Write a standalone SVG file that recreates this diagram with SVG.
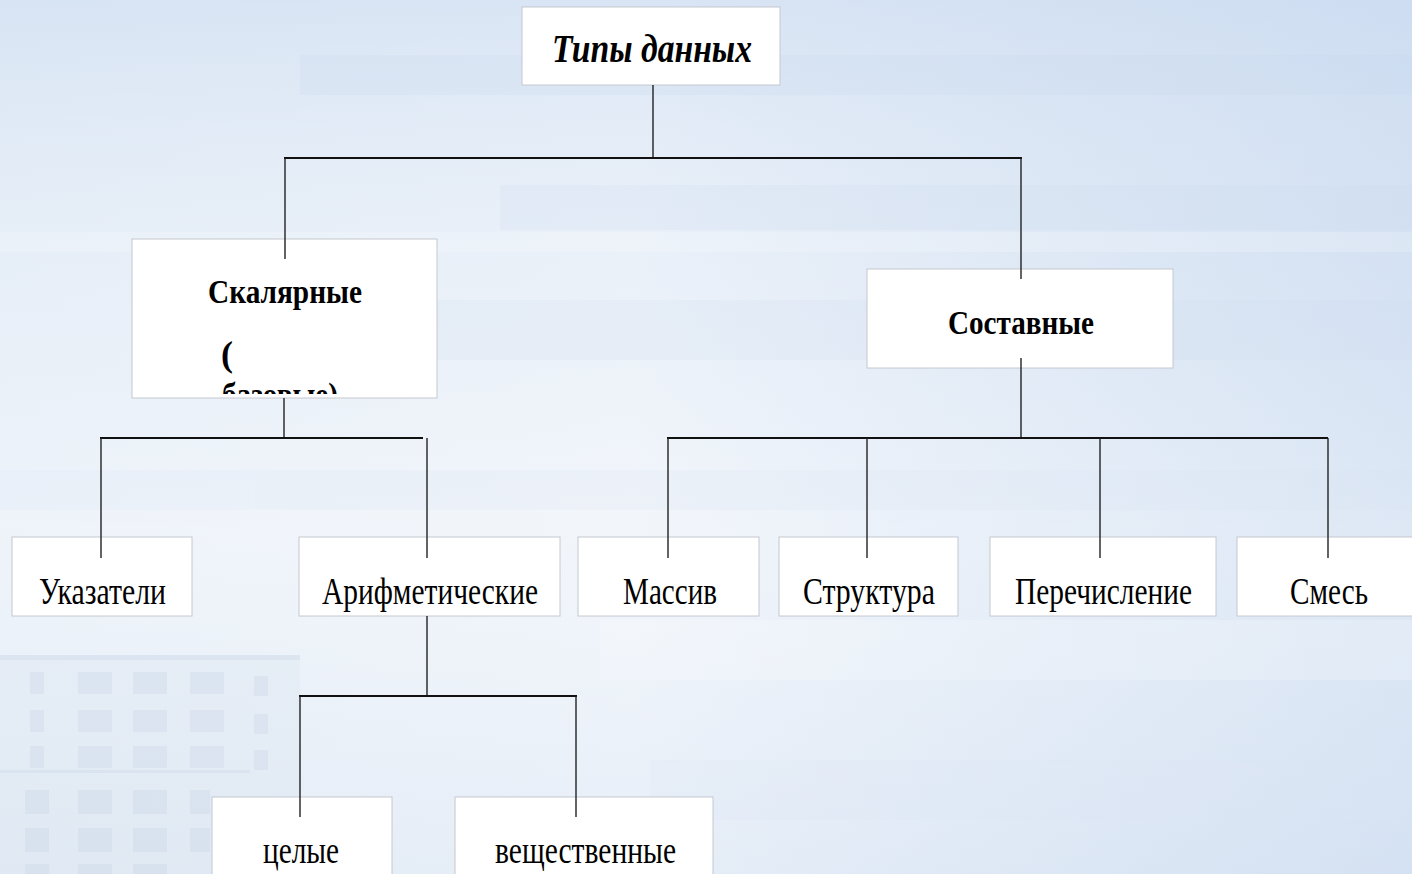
<svg xmlns="http://www.w3.org/2000/svg" width="1412" height="874" viewBox="0 0 1412 874">
  <defs>
    <linearGradient id="bgH" x1="0" y1="0" x2="1" y2="0">
      <stop offset="0" stop-color="#e9f0f8"/>
      <stop offset="0.45" stop-color="#eef3fa"/>
      <stop offset="1" stop-color="#d2e0f2"/>
    </linearGradient>
    <linearGradient id="bgV" x1="0" y1="0" x2="0" y2="1">
      <stop offset="0" stop-color="#c9daf0" stop-opacity="0.55"/>
      <stop offset="0.3" stop-color="#dde8f5" stop-opacity="0.2"/>
      <stop offset="0.6" stop-color="#ffffff" stop-opacity="0.25"/>
      <stop offset="1" stop-color="#d8e4f3" stop-opacity="0.35"/>
    </linearGradient>
    <clipPath id="clipSc">
      <rect x="132" y="239" width="305" height="155"/>
    </clipPath>
    <style>
      .box { fill: #ffffff; stroke: #c4c8cf; stroke-width: 1; }
      .lbl { font-family: "Liberation Serif", "Times New Roman", serif; font-size: 38px; fill: #000; text-anchor: middle; }
      .bold { font-weight: bold; font-size: 34px; }
      .title { font-weight: bold; font-style: italic; font-size: 40px; }
      .h { stroke: #111; stroke-width: 2.2; fill: none; }
      .v { stroke: #222; stroke-width: 1.4; fill: none; }
      .bldg { fill: #b9c9de; opacity: 0.22; }
    </style>
  </defs>

  <!-- background -->
  <rect x="0" y="0" width="1412" height="874" fill="url(#bgH)"/>
  <rect x="0" y="0" width="1412" height="874" fill="url(#bgV)"/>
  <g opacity="0.2">
    <rect x="300" y="55" width="1112" height="40" fill="#c6d8ee"/>
    <rect x="500" y="185" width="912" height="45" fill="#cadbef"/>
    <rect x="0" y="232" width="1412" height="20" fill="#ffffff"/>
    <rect x="430" y="300" width="982" height="60" fill="#d0def0"/>
    <rect x="0" y="470" width="1412" height="40" fill="#dae5f3"/>
    <rect x="600" y="620" width="812" height="60" fill="#ffffff"/>
    <rect x="650" y="760" width="762" height="60" fill="#dbe6f3"/>
  </g>
  <!-- faint building, bottom left -->
  <g>
    <rect x="0" y="655" width="300" height="219" fill="#dbe5f1" opacity="0.4"/>
    <rect x="0" y="655" width="300" height="5" class="bldg"/>
    <rect x="0" y="770" width="250" height="3" class="bldg"/>
    <rect x="30" y="672" width="14" height="22" class="bldg"/>
    <rect x="78" y="672" width="34" height="22" class="bldg"/>
    <rect x="133" y="672" width="34" height="22" class="bldg"/>
    <rect x="190" y="672" width="34" height="22" class="bldg"/>
    <rect x="254" y="676" width="14" height="20" class="bldg"/>
    <rect x="30" y="710" width="14" height="22" class="bldg"/>
    <rect x="78" y="710" width="34" height="22" class="bldg"/>
    <rect x="133" y="710" width="34" height="22" class="bldg"/>
    <rect x="190" y="710" width="34" height="22" class="bldg"/>
    <rect x="254" y="714" width="14" height="20" class="bldg"/>
    <rect x="30" y="746" width="14" height="22" class="bldg"/>
    <rect x="78" y="746" width="34" height="22" class="bldg"/>
    <rect x="133" y="746" width="34" height="22" class="bldg"/>
    <rect x="190" y="746" width="34" height="22" class="bldg"/>
    <rect x="254" y="750" width="14" height="20" class="bldg"/>
    <rect x="25" y="790" width="24" height="24" class="bldg"/>
    <rect x="78" y="790" width="34" height="24" class="bldg"/>
    <rect x="133" y="790" width="34" height="24" class="bldg"/>
    <rect x="190" y="790" width="20" height="24" class="bldg"/>
    <rect x="25" y="828" width="24" height="24" class="bldg"/>
    <rect x="78" y="828" width="34" height="24" class="bldg"/>
    <rect x="133" y="828" width="34" height="24" class="bldg"/>
    <rect x="190" y="828" width="20" height="24" class="bldg"/>
    <rect x="25" y="864" width="24" height="10" class="bldg"/>
    <rect x="78" y="864" width="34" height="10" class="bldg"/>
    <rect x="133" y="864" width="34" height="10" class="bldg"/>
  </g>

  <!-- nodes -->
  <g id="n-root">
    <rect class="box" x="522" y="7" width="258" height="78"/>
    <text class="lbl title" x="652" y="62" textLength="200" lengthAdjust="spacingAndGlyphs">Типы данных</text>
  </g>
  <g id="n-scalar">
    <rect class="box" x="132" y="239" width="305" height="159"/>
    <text class="lbl bold" x="285" y="303" textLength="154" lengthAdjust="spacingAndGlyphs">Скалярные</text>
    <text class="lbl bold" x="221" y="366" style="text-anchor:start;font-size:36px">(</text>
    <text class="lbl bold" x="222" y="406" style="text-anchor:start" textLength="116" lengthAdjust="spacingAndGlyphs" clip-path="url(#clipSc)">базовые)</text>
  </g>
  <g id="n-compound">
    <rect class="box" x="867" y="269" width="306" height="99"/>
    <text class="lbl bold" x="1021" y="334" textLength="146" lengthAdjust="spacingAndGlyphs">Составные</text>
  </g>
  <g id="n-pointers">
    <rect class="box" x="12" y="537" width="180" height="79"/>
    <text class="lbl" x="102.5" y="604" textLength="127" lengthAdjust="spacingAndGlyphs">Указатели</text>
  </g>
  <g id="n-arith">
    <rect class="box" x="299" y="537" width="261" height="79"/>
    <text class="lbl" x="430" y="604" textLength="216" lengthAdjust="spacingAndGlyphs">Арифметические</text>
  </g>
  <g id="n-array">
    <rect class="box" x="578" y="537" width="181" height="79"/>
    <text class="lbl" x="670" y="604" textLength="94" lengthAdjust="spacingAndGlyphs">Массив</text>
  </g>
  <g id="n-struct">
    <rect class="box" x="779" y="537" width="179" height="79"/>
    <text class="lbl" x="869" y="604" textLength="132" lengthAdjust="spacingAndGlyphs">Структура</text>
  </g>
  <g id="n-enum">
    <rect class="box" x="990" y="537" width="226" height="79"/>
    <text class="lbl" x="1103.5" y="604" textLength="177" lengthAdjust="spacingAndGlyphs">Перечисление</text>
  </g>
  <g id="n-union">
    <rect class="box" x="1237" y="537" width="190" height="79"/>
    <text class="lbl" x="1329" y="604" textLength="78" lengthAdjust="spacingAndGlyphs">Смесь</text>
  </g>
  <g id="n-int">
    <rect class="box" x="212" y="797" width="180" height="90"/>
    <text class="lbl" x="301" y="863" textLength="76" lengthAdjust="spacingAndGlyphs">целые</text>
  </g>
  <g id="n-real">
    <rect class="box" x="455" y="797" width="258" height="90"/>
    <text class="lbl" x="585.5" y="863" textLength="181" lengthAdjust="spacingAndGlyphs">вещественные</text>
  </g>

  <!-- connectors -->
  <g id="connectors">
    <line class="v" x1="653" y1="85" x2="653" y2="158"/>
    <line class="h" x1="284" y1="158" x2="1022" y2="158"/>
    <line class="v" x1="285" y1="158" x2="285" y2="259"/>
    <line class="v" x1="1021" y1="158" x2="1021" y2="279"/>

    <line class="v" x1="284" y1="398" x2="284" y2="438"/>
    <line class="h" x1="100" y1="438" x2="423" y2="438"/>
    <line class="v" x1="101" y1="438" x2="101" y2="558"/>
    <line class="v" x1="427" y1="438" x2="427" y2="558"/>

    <line class="v" x1="1021" y1="358" x2="1021" y2="438"/>
    <line class="h" x1="667" y1="438" x2="1328" y2="438"/>
    <line class="v" x1="668" y1="438" x2="668" y2="558"/>
    <line class="v" x1="867" y1="438" x2="867" y2="558"/>
    <line class="v" x1="1100" y1="438" x2="1100" y2="558"/>
    <line class="v" x1="1328" y1="438" x2="1328" y2="558"/>

    <line class="v" x1="427" y1="616" x2="427" y2="696"/>
    <line class="h" x1="299" y1="696" x2="577" y2="696"/>
    <line class="v" x1="300" y1="696" x2="300" y2="817"/>
    <line class="v" x1="576" y1="696" x2="576" y2="817"/>
  </g>
</svg>
